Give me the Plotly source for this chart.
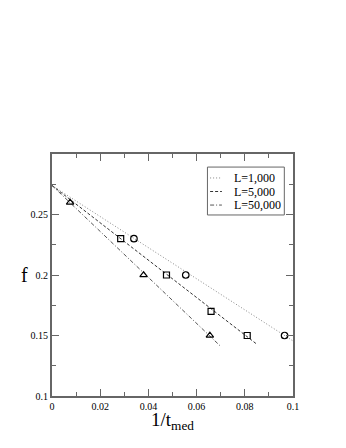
import plotly.graph_objects as go

# Data points
x_L1000 = [0.034, 0.0555, 0.0965]
y_L1000 = [0.23, 0.20, 0.15]
x_L5000 = [0.0285, 0.0475, 0.066, 0.081]
y_L5000 = [0.23, 0.20, 0.17, 0.15]
x_L50000 = [0.0075, 0.038, 0.0655]
y_L50000 = [0.26, 0.20, 0.15]

# Fit lines (start and end)
fit_L1000_x = [0.0, 0.1]
fit_L1000_y = [0.274, 0.1455]
fit_L5000_x = [0.0, 0.0852]
fit_L5000_y = [0.274, 0.1425]
fit_L50000_x = [0.0, 0.070]
fit_L50000_y = [0.274, 0.141]

legend_names = ["L=1,000", "L=5,000", "L=50,000"]

x_ticks = [0, 0.02, 0.04, 0.06, 0.08, 0.1]
x_ticktext = ["0", "0.02", "0.04", "0.06", "0.08", "0.1"]
y_ticks = [0.1, 0.15, 0.2, 0.25]
y_ticktext = ["0.1", "0.15", "0.2", "0.25"]

font = "Liberation Serif"
styles = [
    dict(color="#888888", width=1, dash="1px,2px"),
    dict(color="#333333", width=1, dash="3px,2px"),
    dict(color="#555555", width=1, dash="4px,2px,1px,2px"),
]

fig = go.Figure()
fig.add_trace(go.Scatter(x=fit_L1000_x, y=fit_L1000_y, mode="lines", showlegend=False, line=styles[0]))
fig.add_trace(go.Scatter(x=fit_L5000_x, y=fit_L5000_y, mode="lines", showlegend=False, line=styles[1]))
fig.add_trace(go.Scatter(x=fit_L50000_x, y=fit_L50000_y, mode="lines", showlegend=False, line=styles[2]))

fig.add_trace(go.Scatter(x=x_L1000, y=y_L1000, mode="markers", showlegend=False,
                         marker=dict(symbol="circle-open", size=6.5, color="black", line=dict(width=1.2))))
fig.add_trace(go.Scatter(x=x_L5000, y=y_L5000, mode="markers", showlegend=False,
                         marker=dict(symbol="square-open", size=6, color="black", line=dict(width=1.2))))
fig.add_trace(go.Scatter(x=x_L50000, y=y_L50000, mode="markers", showlegend=False,
                         marker=dict(symbol="triangle-up-open", size=6.5, color="black", line=dict(width=1.2))))

axis_common = dict(showgrid=False, zeroline=False, showline=True, linecolor="#666666", linewidth=2,
                   mirror="allticks", ticks="inside", ticklen=7, tickcolor="#666666", tickwidth=1,
                   tickfont=dict(family=font, size=10, color="black"), automargin=False,
                   minor=dict(ticks="inside", ticklen=4, tickcolor="#666666", tickwidth=1))

fig.update_xaxes(range=[0, 0.1], tickvals=x_ticks, ticktext=x_ticktext, minor_dtick=0.01, **axis_common)
fig.update_yaxes(range=[0.1, 0.3], tickvals=y_ticks, ticktext=y_ticktext, minor_dtick=0.025, **axis_common)

# Axis titles
fig.add_annotation(text="1/t<sub>med</sub>", xref="paper", yref="paper", x=0.5, y=0,
                   xanchor="center", yanchor="top", yshift=-11, showarrow=False,
                   font=dict(family=font, size=19, color="black"))
fig.add_annotation(text="f", xref="paper", yref="paper", x=-0.116, y=0.5,
                   xanchor="center", yanchor="middle", showarrow=False,
                   font=dict(family=font, size=20, color="black"))

# Legend (drawn manually to match compact boxed legend)
fig.add_shape(type="rect", xref="paper", yref="paper", x0=0.645, x1=0.964, y0=0.748, y1=0.946,
              line=dict(color="#666666", width=1), fillcolor="white", layer="above")
row_y = [0.901, 0.845, 0.789]
for name, st, ry in zip(legend_names, styles, row_y):
    fig.add_shape(type="line", xref="paper", yref="paper", x0=0.656, x1=0.705, y0=ry, y1=ry,
                  line=st, layer="above")
    fig.add_annotation(text=name, xref="paper", yref="paper", x=0.747, y=ry,
                       xanchor="left", yanchor="middle", showarrow=False,
                       font=dict(family=font, size=12, color="black"))

fig.update_layout(
    width=338, height=440,
    margin=dict(l=44, r=53, t=146, b=52, autoexpand=False),
    paper_bgcolor="white", plot_bgcolor="white",
    showlegend=False,
)

fig.write_html("out.html")
